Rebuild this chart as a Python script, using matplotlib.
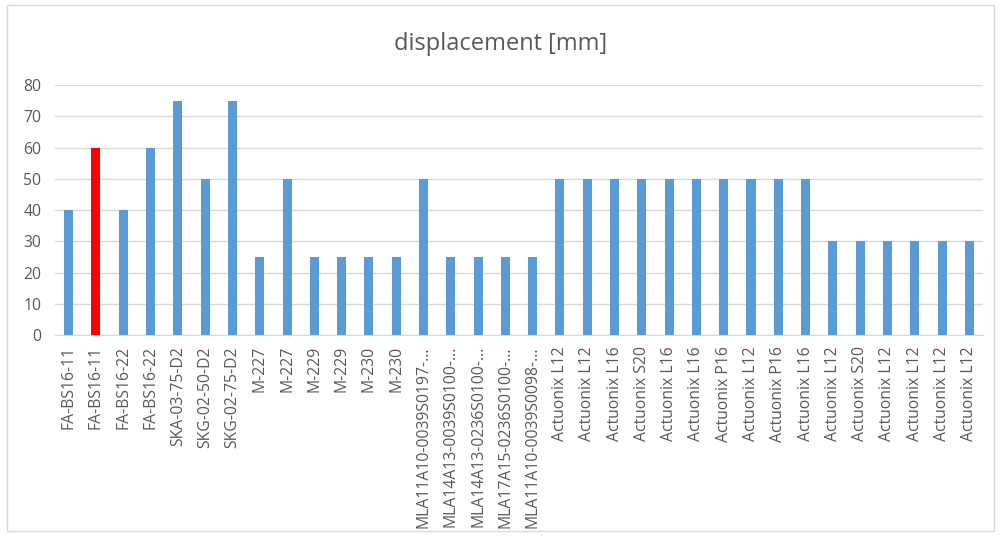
import matplotlib.pyplot as plt
from matplotlib.patches import Rectangle

plt.rcParams['font.family'] = ['Open Sans', 'DejaVu Sans']

labels = ["FA-BS16-11", "FA-BS16-11", "FA-BS16-22", "FA-BS16-22",
          "SKA-03-75-D2", "SKG-02-50-D2", "SKG-02-75-D2",
          "M-227", "M-227", "M-229", "M-229", "M-230", "M-230",
          "MLA11A10-0039S0197-...", "MLA14A13-0039S0100-...",
          "MLA14A13-0236S0100-...", "MLA17A15-0236S0100-...",
          "MLA11A10-0039S0098-...",
          "Actuonix L12", "Actuonix L12", "Actuonix L16", "Actuonix S20",
          "Actuonix L16", "Actuonix L16", "Actuonix P16", "Actuonix L12",
          "Actuonix P16", "Actuonix L16", "Actuonix L12", "Actuonix S20",
          "Actuonix L12", "Actuonix L12", "Actuonix L12", "Actuonix L12"]
values = [40, 60, 40, 60, 75, 50, 75, 25, 50, 25, 25, 25, 25,
          50, 25, 25, 25, 25,
          50, 50, 50, 50, 50, 50, 50, 50, 50, 50,
          30, 30, 30, 30, 30, 30]
highlight = 1

blue = '#5B9BD5'
red = '#FF0000'
grey = '#595959'

fig = plt.figure(figsize=(10.01, 5.39), dpi=100)
ax = fig.add_axes([0.055, 0.3785, 0.927, 0.4635])

colors = [red if i == highlight else blue for i in range(len(values))]
x = list(range(len(values)))
ax.bar(x, values, width=0.33, color=colors, zorder=3)

ax.set_xlim(-0.5, len(values) - 0.5)
ax.set_ylim(0, 80)
ax.set_yticks(range(0, 81, 10))
ax.grid(axis='y', color='#D9D9D9', linewidth=1, zorder=0)
ax.set_xticks(x)
ax.set_xticklabels(labels, rotation=90, fontsize=11.3, color=grey)
ax.tick_params(axis='y', labelsize=11.3, labelcolor=grey, length=0, pad=10)
ax.tick_params(axis='x', length=0, pad=8)
for s in ['top', 'right', 'left']:
    ax.spines[s].set_visible(False)
ax.spines['bottom'].set_color('#D9D9D9')

fig.text(0.5, 0.918, "displacement [mm]", ha='center', va='center',
         fontsize=17, color=grey)

fig.patches.append(Rectangle((0.007, 0.015), 0.986, 0.975, transform=fig.transFigure,
                             fill=False, edgecolor='#D9D9D9', linewidth=1))

fig.savefig("out.png", dpi=100)
